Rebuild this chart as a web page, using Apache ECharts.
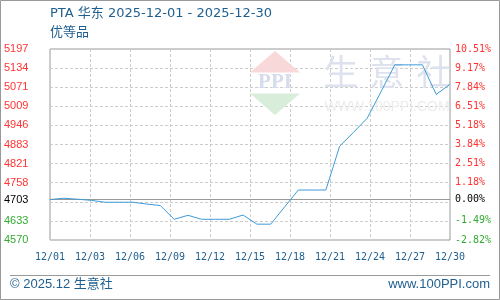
<!DOCTYPE html>
<html><head><meta charset="utf-8">
<script src="https://cdn.jsdelivr.net/npm/echarts@6/dist/echarts.min.js"></script>
<style>html,body{margin:0;padding:0;background:#fff}#c{width:500px;height:300px}</style>
</head><body><div id="c"></div>
<script>
const titleText = 'PTA 华东 2025-12-01 - 2025-12-30';
const subTitleText = '优等品';
const footerLeft = '© 2025.12 生意社';
const footerRight = 'www.100PPI.com';
const dates = ['12/01','12/02','12/03','12/04','12/05','12/06','12/07','12/08','12/09','12/10',
  '12/11','12/12','12/13','12/14','12/15','12/16','12/17','12/18','12/19','12/20',
  '12/21','12/22','12/23','12/24','12/25','12/26','12/27','12/28','12/29','12/30'];
const prices = [4703,4707,4704,4700,4694,4694,4694,4688,4683,4638,
  4651,4638,4638,4638,4652,4622,4622,4678,4734,4734,
  4734,4878,4923,4970,5057,5145,5145,5145,5048,5081];
const baseValue = 4703;
const yMin = 4570, yMax = 5197;
const gridValues = [4570,4632.7,4695.4,4758.1,4820.8,4883.5,4946.2,5008.9,5071.6,5134.3,5197];
const labelValues = [4570,4632.7,4703,4758.1,4820.8,4883.5,4946.2,5008.9,5071.6,5134.3,5197];
const leftLabels = ['4570','4633','4703','4758','4821','4883','4946','5009','5071','5134','5197'];
const rightLabels = ['-2.82%','-1.49%','0.00%','1.18%','2.51%','3.84%','5.18%','6.51%','7.84%','9.17%','10.51%'];
const xTickLabels = ['12/01','12/03','12/06','12/09','12/12','12/15','12/18','12/21','12/24','12/27','12/30'];
const xStep = 2.9;

function labelIndex(v){
  let best = 0, bd = Infinity;
  labelValues.forEach((lv,i)=>{const d=Math.abs(lv-v); if(d<bd){bd=d;best=i;}});
  return best;
}
function labelColor(v){
  const i = labelIndex(v);
  const lv = labelValues[i];
  if (Math.abs(lv - baseValue) < 1) return '#000000';
  return lv > baseValue ? '#ff3333' : '#33aa33';
}

const chart = echarts.init(document.getElementById('c'), null, {renderer:'canvas'});
const blue = '#1f5f8f';
chart.setOption({
  animation: false,
  backgroundColor: '#ffffff',
  grid: {left: 50, right: 50, top: 49, bottom: 60, show: true, borderColor: '#999999', borderWidth: 1, backgroundColor: 'transparent'},
  xAxis: {
    type: 'value', min: 0, max: dates.length - 1, interval: xStep,
    axisLine: {show: false}, axisTick: {show: false},
    splitLine: {show: true, lineStyle: {color: '#cccccc', type: [3,2], width: 1}},
    axisLabel: {
      margin: 12, fontSize: 10, fontFamily: 'DejaVu Sans Mono', color: blue,
      showMinLabel: true, showMaxLabel: true,
      formatter: v => xTickLabels[Math.round(v / xStep)] || ''
    }
  },
  yAxis: [{
    type: 'value', min: yMin, max: yMax, position: 'left',
    axisLine: {show: false},
    axisTick: {show: false, customValues: gridValues},
    splitLine: {show: true, lineStyle: {color: '#cccccc', type: [3,2], width: 1}},
    axisLabel: {
      customValues: labelValues, align: 'left', margin: 46,
      fontSize: 11, fontFamily: 'Liberation Sans',
      color: labelColor,
      formatter: v => leftLabels[labelIndex(v)]
    }
  }, {
    type: 'value', min: yMin, max: yMax, position: 'right',
    axisLine: {show: false},
    axisTick: {show: false, customValues: gridValues},
    splitLine: {show: false},
    axisLabel: {
      customValues: labelValues, align: 'left', margin: 5,
      fontSize: 10, fontFamily: 'DejaVu Sans Mono',
      color: labelColor,
      formatter: v => rightLabels[labelIndex(v)]
    }
  }],
  series: [{
    type: 'line', yAxisIndex: 0, z: 5,
    data: prices.map((p, i) => [i, p]),
    showSymbol: false, symbol: 'none',
    lineStyle: {color: '#3d9bd9', width: 1},
    markLine: {
      silent: true, symbol: ['none','none'], z: 3,
      label: {show: false},
      lineStyle: {color: '#999999', type: 'solid', width: 1},
      data: [{yAxis: baseValue}]
    }
  }],
  graphic: [
    {type: 'rect', shape: {x: 0.5, y: 0.5, width: 499, height: 299}, style: {fill: 'none', stroke: '#999999', lineWidth: 1}, z: 0, silent: true},
    {type: 'text', left: 50, top: 7, style: {text: titleText, fontSize: 13, fontFamily: 'DejaVu Sans, Noto Sans CJK SC', fill: blue}},
    {type: 'text', left: 50, top: 25, style: {text: subTitleText, fontSize: 13, fontFamily: 'Noto Sans CJK SC', fill: blue}},
    {type: 'line', shape: {x1: 10, y1: 275.5, x2: 490, y2: 275.5}, style: {stroke: '#999999', lineWidth: 1}},
    {type: 'text', left: 10, top: 278, style: {text: footerLeft, fontSize: 13, fontFamily: 'Liberation Sans, Noto Sans CJK SC', fill: blue}},
    {type: 'text', right: 10, top: 278, style: {text: footerRight, fontSize: 13, fontFamily: 'Liberation Sans', fill: blue}},
    // watermark logo
    {type: 'polygon', z: 1, silent: true, shape: {points: [[250,72.5],[275,51],[300,72.5]]}, style: {fill: '#f8d8d8'}},
    {type: 'polygon', z: 1, silent: true, shape: {points: [[250,93.5],[300,93.5],[275,115]]}, style: {fill: '#d8eedb'}},
    {type: 'text', z: 1, silent: true, x: 275, y: 83, style: {text: 'PPI', fontSize: 21, fontWeight: 'bold', fontFamily: 'Liberation Serif', fill: '#d6dcec', align: 'center', verticalAlign: 'middle'}},
    {type: 'text', z: 1, silent: true, x: 341, y: 72, style: {text: '生', fontSize: 35, fontFamily: 'Noto Sans CJK SC', fill: '#dde2ee', align: 'center', verticalAlign: 'middle'}},
    {type: 'text', z: 1, silent: true, x: 387, y: 72, style: {text: '意', fontSize: 35, fontFamily: 'Noto Sans CJK SC', fill: '#dde2ee', align: 'center', verticalAlign: 'middle'}},
    {type: 'text', z: 1, silent: true, x: 434, y: 72, style: {text: '社', fontSize: 35, fontFamily: 'Noto Sans CJK SC', fill: '#dde2ee', align: 'center', verticalAlign: 'middle'}},
    {type: 'text', z: 1, silent: true, x: 387, y: 107, style: {text: 'WWW.100PPI.COM', fontSize: 14, fontFamily: 'Liberation Sans', fill: '#ececec', align: 'center', verticalAlign: 'middle'}}
  ]
});
</script></body></html>
